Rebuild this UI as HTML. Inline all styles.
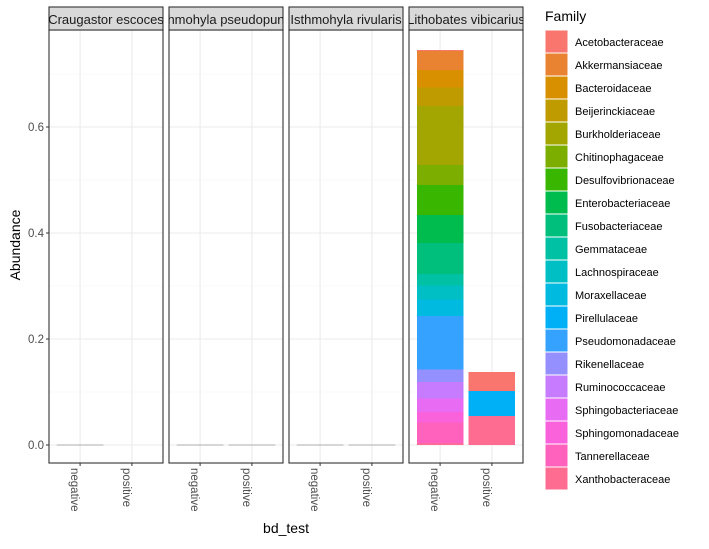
<!DOCTYPE html>
<html><head><meta charset="utf-8"><style>
body{margin:0;background:#fff;font-family:"Liberation Sans",Arial,sans-serif;}
svg text{font-family:"Liberation Sans",Arial,sans-serif;}
</style></head><body>
<svg id="chart" width="709" height="544" xmlns="http://www.w3.org/2000/svg"></svg>
<script>
const families=["Acetobacteraceae","Akkermansiaceae","Bacteroidaceae","Beijerinckiaceae","Burkholderiaceae","Chitinophagaceae","Desulfovibrionaceae","Enterobacteriaceae","Fusobacteriaceae","Gemmataceae","Lachnospiraceae","Moraxellaceae","Pirellulaceae","Pseudomonadaceae","Rikenellaceae","Ruminococcaceae","Sphingobacteriaceae","Sphingomonadaceae","Tannerellaceae","Xanthobacteraceae"];
const colors=["#F8766D","#EA8331","#D89000","#C09B00","#A3A500","#7CAE00","#39B600","#00BB4E","#00BF7D","#00C1A3","#00BFC4","#00BAE0","#00B0F6","#35A2FF","#9590FF","#C77CFF","#E76BF3","#FA62DB","#FF62BC","#FF6C91"];
const panels=["Craugastor escoces","hmohyla pseudopun","Isthmohyla rivularis","Lithobates vibicarius"];
const categories=["negative","positive"];
const vibNegative=[0.002,0.035,0.033,0.035,0.112,0.037,0.057,0.053,0.058,0.022,0.026,0.032,0,0.101,0.023,0.031,0.026,0.020,0.039,0.003];
const vibPositive=[0.036,0,0,0,0,0,0,0,0,0,0,0,0.047,0,0,0,0,0,0,0.055];
const panelPresent=[[true,false],[true,true],[true,true],[true,true]];
const yTicks=[0,0.2,0.4,0.6];
const yTickLabels=["0.0","0.2","0.4","0.6"];

const svg=document.getElementById('chart');
const NS="http://www.w3.org/2000/svg";
function mk(tag,attrs,parent){const e=document.createElementNS(NS,tag);for(const k in attrs)e.setAttribute(k,attrs[k]);(parent||svg).appendChild(e);return e;}
const plotTop=30,plotBottom=463,panelW=114,gap=6,left0=49;
function yScale(v){return 445-v*530;}
function xScale(pi,ci){const l=left0+pi*(panelW+gap);return l+(ci+1-0.4)*(panelW/2.2);}
const bw=0.9*panelW/2.2;

for(let p=0;p<panels.length;p++){
  const l=left0+p*(panelW+gap);
  const g=mk('g',{});
  
  
  for(let m=0.1;m<0.75;m+=0.2){const ln=mk('line',{x1:l,x2:l+panelW,y1:yScale(m),y2:yScale(m),stroke:'#F2F2F2','stroke-width':0.6},g);}
  yTicks.forEach(t=>{const ln=mk('line',{x1:l,x2:l+panelW,y1:yScale(t),y2:yScale(t),stroke:'#EBEBEB','stroke-width':1.1},g);});
  categories.forEach((c,ci)=>{const ln=mk('line',{x1:xScale(p,ci),x2:xScale(p,ci),y1:plotTop,y2:plotBottom,stroke:'#EBEBEB','stroke-width':1.1},g);});
  if(p===3){
    [vibNegative,vibPositive].forEach((arr,ci)=>{
      let cum=arr.reduce((a,b)=>a+b,0);
      arr.forEach((v,fi)=>{ if(v<=0)return;
        const r=mk('rect',{x:xScale(p,ci)-bw/2,y:yScale(cum),width:bw,height:yScale(cum-v)-yScale(cum),fill:colors[fi],'shape-rendering':'crispEdges'},g);
        
        
        cum-=v;});
    });
  } else {
    categories.forEach((c,ci)=>{ if(!panelPresent[p][ci])return;
      const ln=mk('line',{x1:xScale(p,ci)-bw/2,x2:xScale(p,ci)+bw/2,y1:yScale(0),y2:yScale(0),stroke:'#999','stroke-width':0.8},g);
      
      });
  }
  const b=mk('rect',{x:l,y:plotTop,width:panelW,height:plotBottom-plotTop,fill:'none',stroke:'#333','stroke-width':1.1},g);
  
  const s=mk('rect',{x:l,y:7,width:panelW,height:plotTop-7,fill:'#D9D9D9',stroke:'#333','stroke-width':1.1},g);
  
  const cp=mk('clipPath',{id:'cp'+p},g);mk('rect',{x:l,y:7,width:panelW,height:plotTop-7},cp);
  const st=mk('text',{x:l+panelW/2,y:24,'text-anchor':'middle','font-size':13,fill:'#1A1A1A','clip-path':'url(#cp'+p+')'},g);
  st.textContent=panels[p];
  categories.forEach((c,ci)=>{
    const tk=mk('line',{x1:xScale(p,ci),x2:xScale(p,ci),y1:plotBottom,y2:plotBottom+3,stroke:'#333'},g);
    
    const tx=xScale(p,ci)-9;
    const t=mk('text',{x:tx,y:468,'font-size':11.5,fill:'#4D4D4D',transform:`rotate(90 ${tx} 468)`},g);
    t.textContent=c;
  });
}
yTicks.forEach((t,i)=>{
  const tk=mk('line',{x1:46,x2:49,y1:yScale(t),y2:yScale(t),stroke:'#333'});
  
  const tl=mk('text',{x:44,y:yScale(t)+4,'text-anchor':'end','font-size':11.5,fill:'#4D4D4D'});
  tl.textContent=yTickLabels[i];
});
const yt=mk('text',{x:20,y:245,'text-anchor':'middle','font-size':14,fill:'#000',transform:'rotate(-90 20 245)'});
yt.textContent='Abundance';
const xt=mk('text',{x:286,y:533,'text-anchor':'middle','font-size':14,fill:'#000'});
xt.textContent='bd_test';
const lt=mk('text',{x:545,y:21,'font-size':14,fill:'#000'});
lt.textContent='Family';
families.forEach((f,i)=>{
  const g=mk('g',{});
  
  
  mk('rect',{x:545,y:30+i*23,width:23,height:23,fill:colors[i],stroke:'#fff','stroke-width':1},g);
  const t=mk('text',{x:575,y:46+i*23,'font-size':11,fill:'#000'},g);t.textContent=f;
});
</script>
</body></html>
